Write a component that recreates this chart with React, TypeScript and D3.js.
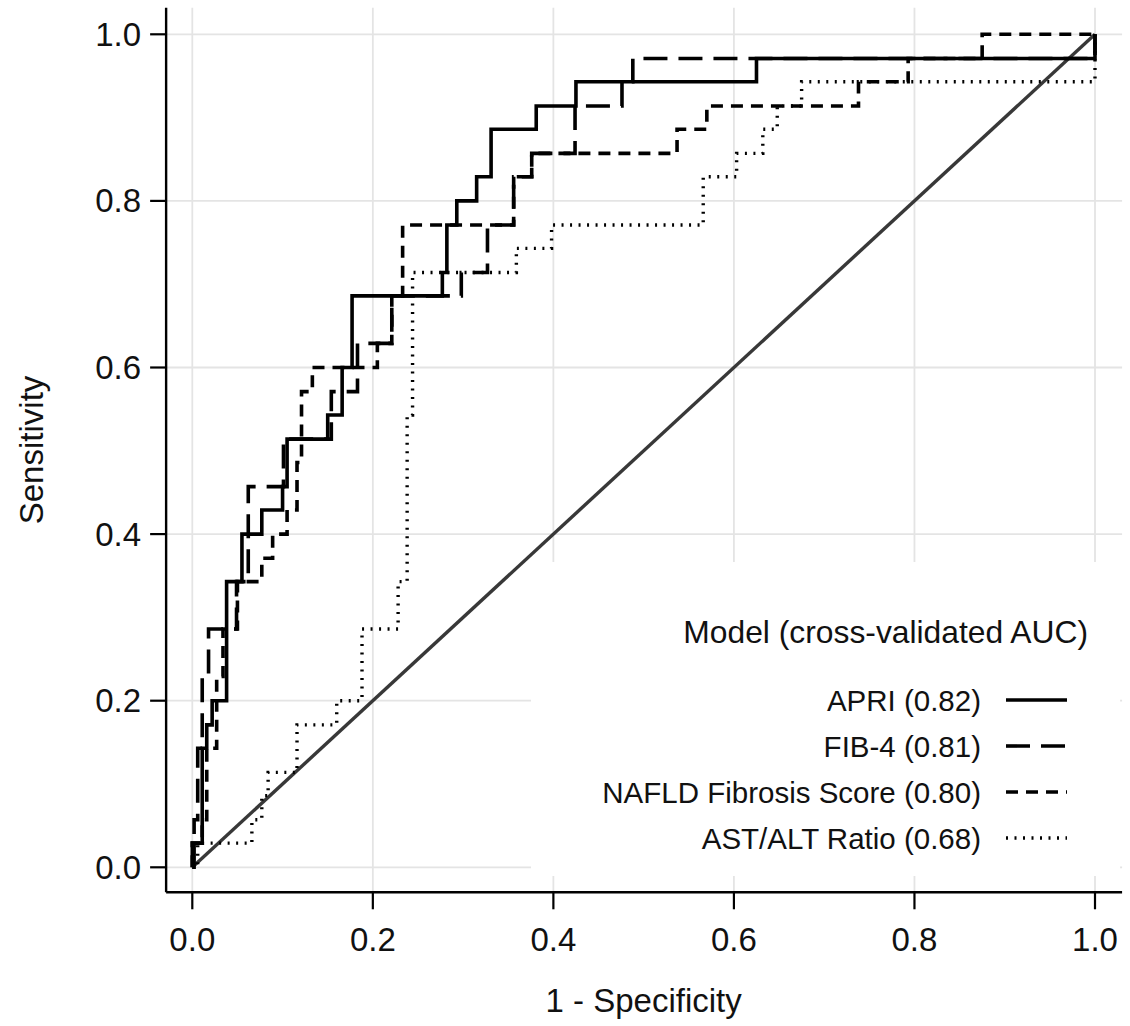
import React from "react";
import * as d3 from "d3";

// ROC step curves (tpr in steps of 1/35)
const apriFpr = [0, 0, 0.011, 0.016, 0.022, 0.038, 0.055, 0.077, 0.1, 0.105, 0.15, 0.166, 0.177, 0.277, 0.282, 0.293, 0.315, 0.331, 0.381, 0.425, 0.625, 1.0];
const apriTpr = [0, 0.029, 0.143, 0.171, 0.2, 0.343, 0.4, 0.429, 0.457, 0.514, 0.543, 0.6, 0.686, 0.714, 0.771, 0.8, 0.829, 0.886, 0.914, 0.943, 0.971, 1.0];

const fib4Fpr = [0, 0.002, 0.006, 0.011, 0.018, 0.049, 0.062, 0.101, 0.154, 0.183, 0.221, 0.298, 0.327, 0.356, 0.376, 0.424, 0.476, 0.488, 1.0];
const fib4Tpr = [0, 0.057, 0.143, 0.229, 0.286, 0.343, 0.457, 0.514, 0.571, 0.629, 0.686, 0.714, 0.771, 0.829, 0.857, 0.914, 0.943, 0.971, 1.0];

const nafldFpr = [0, 0, 0.011, 0.016, 0.027, 0.034, 0.05, 0.077, 0.089, 0.105, 0.116, 0.121, 0.133, 0.205, 0.221, 0.233, 0.356, 0.376, 0.537, 0.57, 0.738, 0.793, 0.875, 1.0];
const nafldTpr = [0, 0.029, 0.057, 0.143, 0.229, 0.286, 0.343, 0.371, 0.4, 0.429, 0.486, 0.571, 0.6, 0.629, 0.686, 0.771, 0.829, 0.857, 0.886, 0.914, 0.943, 0.971, 1.0, 1.0];

const astFpr = [0, 0.006, 0.066, 0.077, 0.084, 0.116, 0.16, 0.188, 0.228, 0.238, 0.244, 0.359, 0.398, 0.566, 0.603, 0.632, 0.648, 0.675, 1.0];
const astTpr = [0, 0.029, 0.057, 0.086, 0.114, 0.171, 0.2, 0.286, 0.343, 0.543, 0.714, 0.743, 0.771, 0.829, 0.857, 0.886, 0.914, 0.943, 1.0];

const modelNames = ["APRI", "FIB-4", "NAFLD Fibrosis Score", "AST/ALT Ratio"];
const modelAuc = ["0.82", "0.81", "0.80", "0.68"];
const tickVals = [0, 0.2, 0.4, 0.6, 0.8, 1.0];

const legendTitle = "Model (cross-validated AUC)";
const xTitle = "1 - Specificity";
const yTitle = "Sensitivity";

const W = 1130, H = 1026;
const font = "'Liberation Sans', Arial, sans-serif";

export default function App() {
  const x = d3.scaleLinear().domain([0, 1]).range([192.3, 1095]);
  const y = d3.scaleLinear().domain([0, 1]).range([867.3, 34.3]);
  // plot region spans a bit beyond 0..1
  const left = x(-0.029), right = x(1.03), top = y(1.032), bottom = y(-0.03);

  const line = d3.line<[number, number]>()
    .x(d => x(d[0]))
    .y(d => y(d[1]))
    .curve(d3.curveStepAfter);

  const series = [
    { fpr: apriFpr, tpr: apriTpr, dash: null, w: 3.6 },
    { fpr: fib4Fpr, tpr: fib4Tpr, dash: "24 11", w: 3.6 },
    { fpr: nafldFpr, tpr: nafldTpr, dash: "12 8", w: 3.6 },
    { fpr: astFpr, tpr: astTpr, dash: "2 6.5", w: 3.4 },
  ];

  const legend = { x0: 531, x1: right - 2, y0: 562, y1: 876 };
  const rowY = [700, 746, 792, 838];

  return (
    <svg width={W} height={H} style={{ position: "absolute", left: 0, top: 0, background: "#fff" }} fontFamily={font}>
      <rect width={W} height={H} fill="#fff" />
      {/* grid */}
      {tickVals.map(t => (
        <line key={"gx" + t} x1={x(t)} x2={x(t)} y1={top} y2={bottom} stroke="#e4e4e4" strokeWidth={1.8} />
      ))}
      {tickVals.map(t => (
        <line key={"gy" + t} x1={left} x2={right} y1={y(t)} y2={y(t)} stroke="#e4e4e4" strokeWidth={1.8} />
      ))}

      {/* reference diagonal */}
      <line x1={x(0)} y1={y(0)} x2={x(1)} y2={y(1)} stroke="#383838" strokeWidth={3.4} />

      {series.map((s, i) => {
        const pts = s.fpr.map((f, j) => [f, s.tpr[j]] as [number, number]);
        return (
          <path key={i} d={line(pts) || ""} fill="none" stroke="#000" strokeWidth={s.w}
            strokeDasharray={s.dash || undefined} strokeLinecap="butt" strokeLinejoin="miter" />
        );
      })}

      {/* legend (white box over the grid) */}
      <rect x={legend.x0} y={legend.y0} width={legend.x1 - legend.x0} height={legend.y1 - legend.y0} fill="#fff" />
      <text x={1088} y={632} textAnchor="end" dominantBaseline="central" fontSize={31.8} fill="#111">{legendTitle}</text>
      {modelNames.map((m, i) => (
        <g key={m}>
          <text x={981} y={rowY[i]} textAnchor="end" dominantBaseline="central" fontSize={29.5} fill="#111">
            {`${m} (${modelAuc[i]})`}
          </text>
          <line x1={1006} x2={1067} y1={rowY[i]} y2={rowY[i]} stroke="#000" strokeWidth={series[i].w}
            strokeDasharray={series[i].dash || undefined} />
        </g>
      ))}

      {/* axes */}
      <line x1={left} x2={left} y1={top} y2={bottom} stroke="#000" strokeWidth={2.4} />
      <line x1={left} x2={right} y1={bottom} y2={bottom} stroke="#000" strokeWidth={2.4} />
      {tickVals.map(t => (
        <g key={"ty" + t}>
          <line x1={left - 16} x2={left} y1={y(t)} y2={y(t)} stroke="#000" strokeWidth={2.2} />
          <text x={left - 25} y={y(t)} textAnchor="end" dominantBaseline="central" fontSize={33} fill="#111">
            {d3.format(".1f")(t)}
          </text>
        </g>
      ))}
      {tickVals.map(t => (
        <g key={"tx" + t}>
          <line x1={x(t)} x2={x(t)} y1={bottom} y2={bottom + 17} stroke="#000" strokeWidth={2.2} />
          <text x={x(t)} y={bottom + 47} textAnchor="middle" dominantBaseline="central" fontSize={33} fill="#111">
            {d3.format(".1f")(t)}
          </text>
        </g>
      ))}
      <text x={(x(0) + x(1)) / 2} y={1000} textAnchor="middle" dominantBaseline="central" fontSize={33} fill="#111">{xTitle}</text>
      <text transform={`translate(31,${(top + bottom) / 2}) rotate(-90)`} textAnchor="middle" dominantBaseline="central" fontSize={33} fill="#111">{yTitle}</text>
    </svg>
  );
}
